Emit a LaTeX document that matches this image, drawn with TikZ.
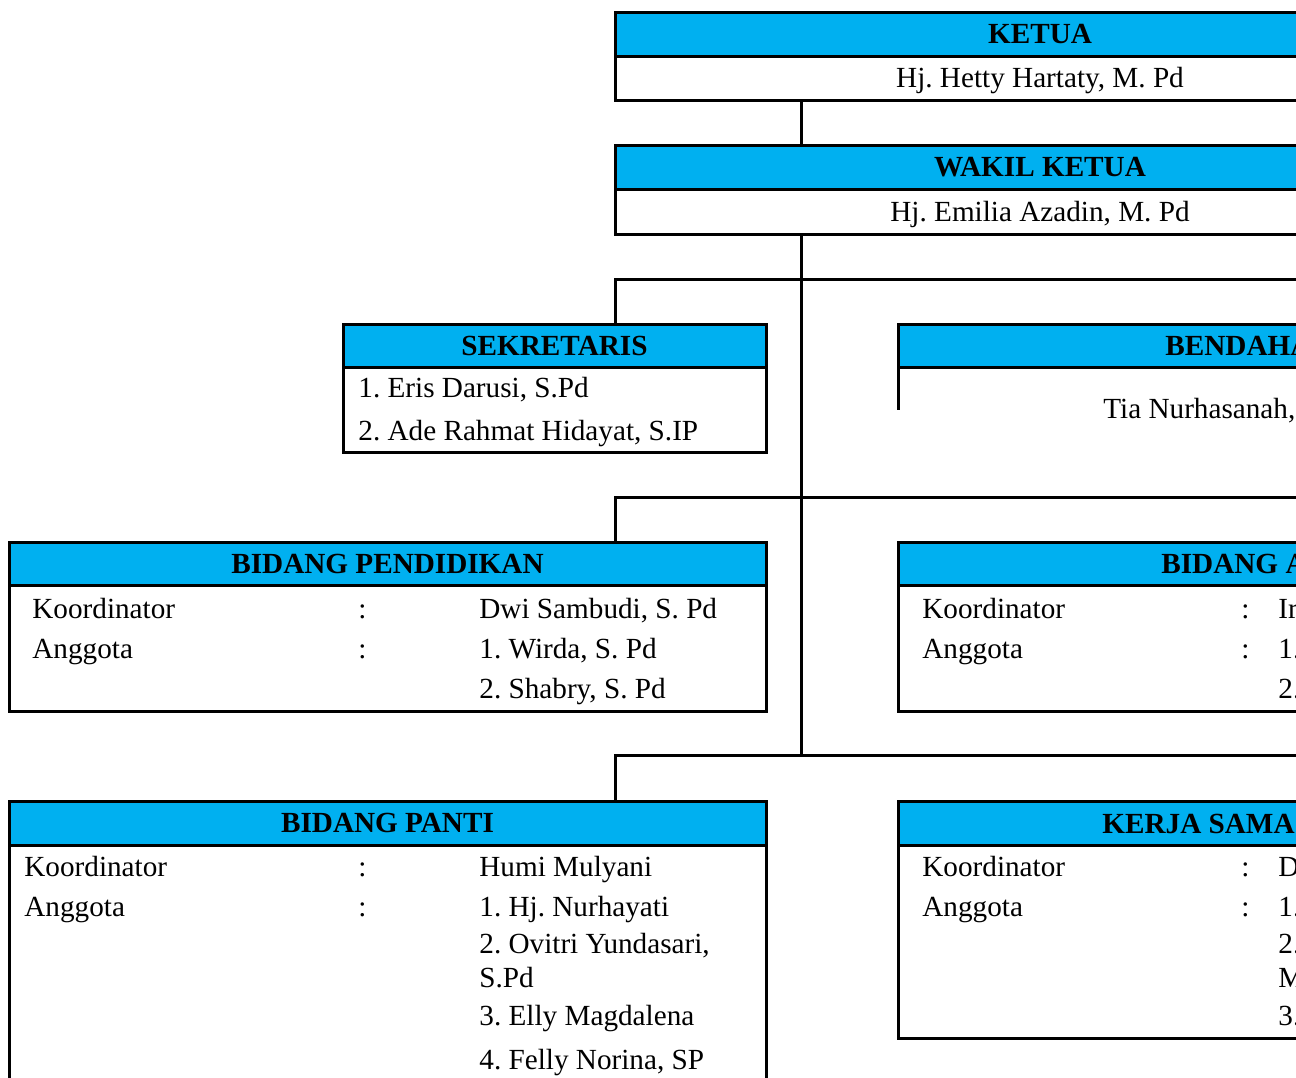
\documentclass[tikz,border=0pt]{standalone}
\usepackage{fontspec}
\setmainfont{Liberation Serif}
\usepackage{tikz}
\usetikzlibrary{
  positioning,
}
\definecolor{hdrblue}{RGB}{0, 176, 240}
\newcommand{\orgfont}{\fontsize{14.6pt}{17pt}\selectfont\frenchspacing}
\tikzstyle{hdr} = [
  draw,
  rectangle,
  fill=hdrblue,
  line width=1.5pt,
  inner sep=0pt,
  outer sep=0pt,
  font=\orgfont\bfseries,
  text height=9.8pt,
  text depth=0pt,
]
\tikzstyle{body} = [
  draw,
  rectangle,
  line width=1.5pt,
  inner sep=0pt,
  outer sep=0pt,
  font=\orgfont,
  text height=9.7pt,
  text depth=0pt,
]
\tikzstyle{row} = [anchor=base west, inner sep=0pt, font=\orgfont]
\tikzstyle{title} = [anchor=base west, inner sep=0pt, font=\orgfont\bfseries]
\tikzstyle{link} = [line width=1.5pt]

\begin{document}
\begin{tikzpicture}[x=0.5pt, y=-0.5pt, node distance=0mm and 0mm]

      \useasboundingbox (0,0) rectangle (1296,1077);
      \clip (0,0) rectangle (1296,1077);

      % ketua and wakil
      \node[hdr,minimum width=425pt,minimum height=22pt]    (ketuah)  at (1040,34)  {KETUA};
      \node[body,minimum width=425pt,minimum height=22pt]   (ketuab)  [below=of ketuah]  {Hj. Hetty Hartaty, M. Pd};
      \node[hdr,minimum width=425pt,minimum height=22pt]    (wakilh)  at (1040,167) {WAKIL KETUA};
      \node[body,minimum width=425pt,minimum height=22.5pt] (wakilb)  [below=of wakilh]  {Hj. Emilia Azadin, M. Pd};

      % sekretaris and bendahara
      \node[hdr,minimum width=211.5pt,minimum height=21.5pt] (sekh) at (554.5,345.5) {SEKRETARIS};
      \node[body,minimum width=211.5pt,minimum height=42.5pt] (sekb) [below=of sekh] {};
      \node[row] (sek1) at (358,397) {1. Eris Darusi, S.Pd};
      \node[row] (sek2) at (358,440) {2. Ade Rahmat Hidayat, S.IP};

      \node[hdr,minimum width=378.5pt,minimum height=21.5pt] (bendh) at (1276.5,345.5) {};
      \node[title] (bendt) at (1165,355) {BENDAHARA};
      \coordinate (bendb) at (898,410);
      \draw[link] (bendh.south west) -- (bendb);
      \node[row] (bend1) at (1103,418) {Tia Nurhasanah,};

      % bidang pendidikan
      \node[hdr,minimum width=378.5pt,minimum height=21.5pt] (pendh) at (387.5,563.5) {BIDANG PENDIDIKAN};
      \node[body,minimum width=378.5pt,minimum height=63pt] (pendb) [below=of pendh] {};
      \node[row] (pendk)  at (32,618)  {Koordinator};
      \node[row] (pendkc) at (358,618) {:};
      \node[row] (pendkn) at (479,618) {Dwi Sambudi, S. Pd};
      \node[row] (penda)  at (32,658)  {Anggota};
      \node[row] (pendac) at (358,658) {:};
      \node[row] (penda1) at (479,658) {1. Wirda, S. Pd};
      \node[row] (penda2) at (479,698) {2. Shabry, S. Pd};

      % bidang a
      \node[hdr,minimum width=378.5pt,minimum height=21.5pt] (bidah) at (1276.5,563.5) {};
      \node[body,minimum width=378.5pt,minimum height=63pt] (bidab) [below=of bidah] {};
      \node[title] (bidat) at (1161,573) {BIDANG A};
      \node[row] (bidak)  at (922,618)  {Koordinator};
      \node[row] (bidakc) at (1241,618) {:};
      \node[row] (bidakn) at (1278,618) {Ir};
      \node[row] (bidaa)  at (922,658)  {Anggota};
      \node[row] (bidaac) at (1241,658) {:};
      \node[row] (bidaa1) at (1278,658) {1.};
      \node[row] (bidaa2) at (1278,698) {2.};

      % bidang panti
      \node[hdr,minimum width=378.5pt,minimum height=22pt] (pantih) at (387.5,823) {BIDANG PANTI};
      \node[body,minimum width=378.5pt,minimum height=130pt] (pantib) [below=of pantih] {};
      \node[row] (pantik)  at (24,876)  {Koordinator};
      \node[row] (pantikc) at (358,876) {:};
      \node[row] (pantikn) at (479,876) {Humi Mulyani};
      \node[row] (pantia)  at (24,916)  {Anggota};
      \node[row] (pantiac) at (358,916) {:};
      \node[row] (pantia1) at (479,916) {1. Hj. Nurhayati};
      \node[row] (pantia2) at (479,953) {2. Ovitri Yundasari,};
      \node[row] (pantia2b) at (479,987) {S.Pd};
      \node[row] (pantia3) at (479,1025) {3. Elly Magdalena};
      \node[row] (pantia4) at (479,1069) {4. Felly Norina, SP};

      % kerja sama
      \node[hdr,minimum width=378.5pt,minimum height=22pt] (kerjah) at (1276.5,823) {};
      \node[body,minimum width=378.5pt,minimum height=96.5pt] (kerjab) [below=of kerjah] {};
      \node[title] (kerjat) at (1102,833) {KERJA SAMA};
      \node[row] (kerjak)  at (922,876)  {Koordinator};
      \node[row] (kerjakc) at (1241,876) {:};
      \node[row] (kerjakn) at (1278,876) {D};
      \node[row] (kerjaa)  at (922,916)  {Anggota};
      \node[row] (kerjaac) at (1241,916) {:};
      \node[row] (kerjaa1) at (1278,916) {1.};
      \node[row] (kerjaa2) at (1278,953) {2.};
      \node[row] (kerjaa2b) at (1278,987) {M};
      \node[row] (kerjaa3) at (1278,1025) {3.};

      % lines
      \coordinate (trunk) at (801,0);
      \coordinate (drop)  at (615,0);
      \coordinate (far)   at (1420,0);
      \coordinate (br1) at (801,279);
      \coordinate (br2) at (801,497);
      \coordinate (br3) at (801,755);

      \draw[link] (ketuab.south -| trunk) -- (wakilh.north -| trunk);
      \draw[link] (wakilb.south -| trunk) -- (br3);
      \draw[link] (sekh.north -| drop) |- (br1) -| (bendh.north -| far);
      \draw[link] (pendh.north -| drop) |- (br2) -| (bidah.north -| far);
      \draw[link] (pantih.north -| drop) |- (br3) -| (kerjah.north -| far);

    \end{tikzpicture}
\end{document}
